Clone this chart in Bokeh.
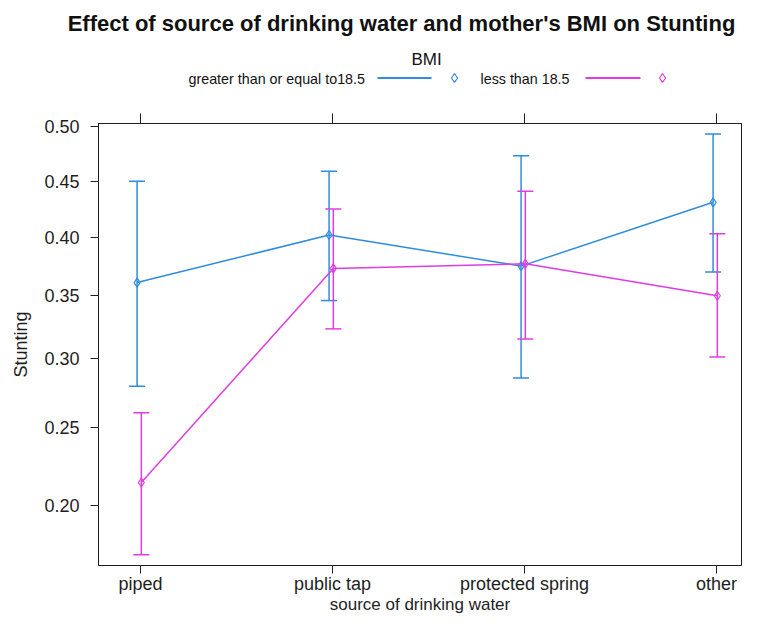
import numpy as np
from bokeh.plotting import figure
from bokeh.layouts import column
from bokeh.models import (ColumnDataSource, Whisker, TeeHead, LinearAxis, FixedTicker,
                          CustomJSTickFormatter, Range1d)
from bokeh.core.properties import value
from bokeh.embed import file_html
from bokeh.resources import INLINE

# ---------------- data ----------------
categories = ["piped", "public tap", "protected spring", "other"]
series_names = ["greater than or equal to18.5", "less than 18.5"]
ge_fit = [0.361, 0.402, 0.375, 0.431]
ge_lower = [0.279, 0.346, 0.285, 0.370]
ge_upper = [0.450, 0.459, 0.473, 0.493]
lt_fit = [0.214, 0.373, 0.377, 0.350]
lt_lower = [0.173, 0.323, 0.315, 0.301]
lt_upper = [0.260, 0.425, 0.441, 0.403]
y_ticks = [0.20, 0.25, 0.30, 0.35, 0.40, 0.45, 0.50]
title_text = "Effect of source of drinking water and mother's BMI on Stunting"
legend_title = "BMI"
x_label = "source of drinking water"
y_label = "Stunting"

BLUE = "#2f8ce0"
MAGENTA = "#e03ce2"
INK = "#1e1e1e"
FONT = "Liberation Sans"
W = 742
HEADER_H = 113


def logit(p):
    p = np.asarray(p, dtype=float)
    return np.log(p / (1.0 - p))


# ---------------- header: title + key (pixel coordinates) ----------------
header = figure(width=W, height=HEADER_H, x_range=Range1d(0, W), y_range=Range1d(HEADER_H, 0),
                output_backend="svg", toolbar_location=None, min_border=0,
                x_axis_type=None, y_axis_type=None, outline_line_color=None)
header.frame_align = False
header.background_fill_color = "white"
header.border_fill_color = "white"

header.text(x=[401], y=[23], text=[title_text], text_font=value(FONT), text_font_size="22px",
            text_font_style="bold", text_color="#111111", text_align="center",
            text_baseline="middle")
header.text(x=[426], y=[58.5], text=[legend_title], text_font=value(FONT), text_font_size="17px",
            text_color="#111111", text_align="center", text_baseline="middle")

key_src = ColumnDataSource(dict(
    label=series_names,
    tx=[188, 480],
    lx0=[377, 585],
    lx1=[431, 640],
    mx=[454, 662],
    y=[77.5, 77.5],
    ty=[78, 78],
    color=[BLUE, MAGENTA],
))
header.text(x="tx", y="ty", text="label", source=key_src, text_font=value(FONT),
            text_font_size="14.3px", text_color="#111111", text_align="left",
            text_baseline="middle")
header.segment(x0="lx0", y0="y", x1="lx1", y1="y", source=key_src, line_color="color",
               line_width=2)
header.scatter(x="mx", y="y", source=key_src, marker="diamond", size=9, line_color="color",
               fill_color=None, line_width=1.2)

# ---------------- main panel ----------------
pos = np.arange(1, len(categories) + 1, dtype=float)

p = figure(width=W, height=619 - HEADER_H,
           x_range=Range1d(0.781, 4.130),
           y_range=Range1d(float(logit(0.1674)), float(logit(0.5025))),
           output_backend="svg", toolbar_location=None,
           min_border_left=98, min_border_right=1, min_border_top=10, min_border_bottom=54)
p.xgrid.visible = False
p.ygrid.visible = False
p.outline_line_color = INK
p.outline_line_width = 1
p.background_fill_color = "white"
p.border_fill_color = "white"

for ax in p.yaxis:
    ax.ticker = FixedTicker(ticks=[float(v) for v in logit(y_ticks)])
    ax.formatter = CustomJSTickFormatter(code="return (1/(1+Math.exp(-tick))).toFixed(2);")
    ax.major_tick_out = 8
    ax.major_tick_in = 0
    ax.minor_tick_line_color = None
    ax.major_label_standoff = 11
    ax.major_label_text_font = FONT
    ax.major_label_text_font_size = "18px"
    ax.major_label_text_color = INK
    ax.axis_label = y_label
    ax.axis_label_text_font = FONT
    ax.axis_label_text_font_size = "18px"
    ax.axis_label_text_font_style = "normal"
    ax.axis_label_text_color = INK
    ax.axis_label_standoff = 10
    ax.axis_line_color = INK
    ax.major_tick_line_color = INK

for ax in p.xaxis:
    ax.ticker = FixedTicker(ticks=[float(v) for v in pos])
    ax.formatter = CustomJSTickFormatter(args=dict(cats=categories),
                                         code="return cats[Math.round(tick) - 1];")
    ax.major_tick_out = 8
    ax.major_tick_in = 0
    ax.minor_tick_line_color = None
    ax.major_label_standoff = 0
    ax.major_label_text_font = FONT
    ax.major_label_text_font_size = "18px"
    ax.major_label_text_color = INK
    ax.axis_label = x_label
    ax.axis_label_text_font = FONT
    ax.axis_label_text_font_size = "17px"
    ax.axis_label_text_font_style = "normal"
    ax.axis_label_text_color = INK
    ax.axis_label_standoff = -2
    ax.axis_line_color = INK
    ax.major_tick_line_color = INK

top_axis = LinearAxis(ticker=FixedTicker(ticks=[float(v) for v in pos]),
                      formatter=CustomJSTickFormatter(code="return '';"),
                      major_tick_out=10, major_tick_in=0,
                      minor_tick_line_color=None,
                      major_label_text_font_size="0px",
                      major_label_standoff=0,
                      axis_line_color=INK, major_tick_line_color=INK)
p.add_layout(top_axis, "above")

series = [
    (ge_fit, ge_lower, ge_upper, BLUE, -0.018),
    (lt_fit, lt_lower, lt_upper, MAGENTA, 0.004),
]
for fit, lo, up, col, off in series:
    src = ColumnDataSource(dict(x=pos + off, fit=logit(fit), lower=logit(lo), upper=logit(up)))
    wh = Whisker(source=src, base="x", lower="lower", upper="upper", dimension="height",
                 line_color=col, line_width=1.5,
                 lower_head=TeeHead(size=16, line_color=col, line_width=1.5),
                 upper_head=TeeHead(size=16, line_color=col, line_width=1.5))
    p.add_layout(wh)
    p.line("x", "fit", source=src, line_color=col, line_width=1.5)
    p.scatter("x", "fit", source=src, marker="diamond", size=9,
              line_color=col, fill_color=None, line_width=1.2)

layout = column(header, p, spacing=0)
open("out.html", "w").write(file_html(layout, INLINE))
